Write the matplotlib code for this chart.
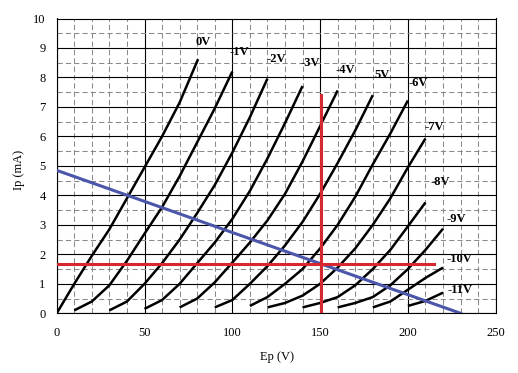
import numpy as np
import matplotlib as mpl
mpl.use('Agg')
import matplotlib.pyplot as plt

# --- plate curves, one pair of lists per grid voltage (Ep in V, Ip in mA)

ep_g0 = [0, 10, 20, 30, 40, 50, 60, 70, 80.5]
ip_g0 = [0, 1.0, 1.95, 2.85, 3.9, 4.95, 6.0, 7.15, 8.62]

ep_g1 = [10, 20, 30, 40, 50, 60, 70, 80, 90, 100]
ip_g1 = [0.1, 0.4, 0.95, 1.78, 2.7, 3.6, 4.65, 5.8, 6.95, 8.2]

ep_g2 = [30, 40, 50, 60, 70, 80, 90, 100, 110, 120]
ip_g2 = [0.1, 0.4, 1.0, 1.7, 2.5, 3.4, 4.35, 5.45, 6.65, 7.96]

ep_g3 = [50, 60, 70, 80, 90, 100, 110, 120, 130, 140]
ip_g3 = [0.15, 0.45, 1.0, 1.7, 2.4, 3.2, 4.15, 5.25, 6.45, 7.71]

ep_g4 = [70, 80, 90, 100, 110, 120, 130, 140, 150, 160]
ip_g4 = [0.2, 0.5, 1.05, 1.72, 2.4, 3.15, 4.05, 5.15, 6.35, 7.56]

ep_g5 = [90, 100, 110, 120, 130, 140, 150, 160, 170, 180]
ip_g5 = [0.2, 0.45, 1.0, 1.6, 2.3, 3.1, 4.05, 5.1, 6.2, 7.4]

ep_g6 = [110, 120, 130, 140, 150, 160, 170, 180, 190, 200]
ip_g6 = [0.25, 0.55, 1.0, 1.5, 2.2, 3.0, 3.95, 5.05, 6.1, 7.22]

ep_g7 = [120, 130, 140, 150, 160, 170, 180, 190, 200, 210]
ip_g7 = [0.2, 0.35, 0.6, 1.0, 1.55, 2.2, 3.0, 3.9, 4.95, 5.93]

ep_g8 = [140, 150, 160, 170, 180, 190, 200, 210]
ip_g8 = [0.2, 0.35, 0.55, 0.95, 1.5, 2.15, 2.95, 3.76]

ep_g9 = [160, 170, 180, 190, 200, 210, 220]
ip_g9 = [0.2, 0.35, 0.55, 0.95, 1.5, 2.15, 2.87]

ep_g10 = [180, 190, 200, 210, 220]
ip_g10 = [0.2, 0.4, 0.8, 1.2, 1.55]

ep_g11 = [200, 210, 220]
ip_g11 = [0.25, 0.42, 0.7]

grid_labels = ['0V', '-1V', '-2V', '-3V', '-4V', '5V', '-6V', '-7V', '-8V', '-9V', '-10V', '-11V']

# load line and operating point
load_ep = [0, 230]
load_ip = [4.85, 0]
q_ep = 150.5
q_ip = 1.67
q_ip_top = 7.4
q_ep_right = 215

curves = [(ep_g0, ip_g0), (ep_g1, ip_g1), (ep_g2, ip_g2), (ep_g3, ip_g3),
          (ep_g4, ip_g4), (ep_g5, ip_g5), (ep_g6, ip_g6), (ep_g7, ip_g7),
          (ep_g8, ip_g8), (ep_g9, ip_g9), (ep_g10, ip_g10), (ep_g11, ip_g11)]

# where the labels sit (left edge, centre)
label_pos = [(78.8, 9.19), (98.3, 8.85), (119.2, 8.62), (138.7, 8.5), (158.5, 8.24),
             (180.7, 8.08), (200.6, 7.82), (209.7, 6.33), (212.6, 4.44), (222, 3.2),
             (222, 1.85), (222.8, 0.79)]


plt.rcParams['font.family'] = ['Liberation Serif', 'DejaVu Serif']

fig = plt.figure(figsize=(5.18, 3.73), dpi=100)
W, H = 518., 373.
ax = fig.add_axes([56.7/W, 1-313.3/H, (495.7-56.7)/W, (313.3-18.5)/H])

ax.set_xlim(0, 250)
ax.set_ylim(0, 10)
ax.set_xticks(np.arange(0, 251, 50))
ax.set_yticks(np.arange(0, 11, 1))
ax.set_xticks(np.arange(0, 251, 10), minor=True)
ax.set_yticks(np.arange(0, 10.1, 0.5), minor=True)
ax.tick_params(which='both', length=0, labelsize=9)
ax.tick_params(axis='x', pad=10)
ax.tick_params(axis='y', pad=8)

ax.grid(which='minor', color='#8a8a8a', lw=0.75, ls=(0, (5, 3)))
ax.grid(which='major', color='black', lw=0.8, ls='-')
ax.set_axisbelow(True)
for s in ax.spines.values():
    s.set_linewidth(0.8)

for ep, ip in curves:
    ax.plot(ep, ip, c='black', lw=1.8, solid_capstyle='butt', zorder=3)

ax.plot(load_ep, load_ip, c='#4b55aa', lw=2.2, zorder=4)
ax.plot([0, q_ep_right], [q_ip, q_ip], c='#d8282f', lw=2.2, zorder=5)
ax.plot([q_ep, q_ep], [0, q_ip_top], c='#d8282f', lw=2.2, zorder=5)

for lab, (x, y) in zip(grid_labels, label_pos):
    ax.text(x, y, lab, fontsize=9, fontweight='bold', ha='left', va='center', zorder=6)

fig.text(276.5/W, 1-357/H, 'Ep (V)', ha='center', va='center', fontsize=9)
fig.text(19/W, 1-170/H, 'Ip (mA)', ha='center', va='center', rotation=90, fontsize=9)

fig.savefig('out.png', dpi=100)
